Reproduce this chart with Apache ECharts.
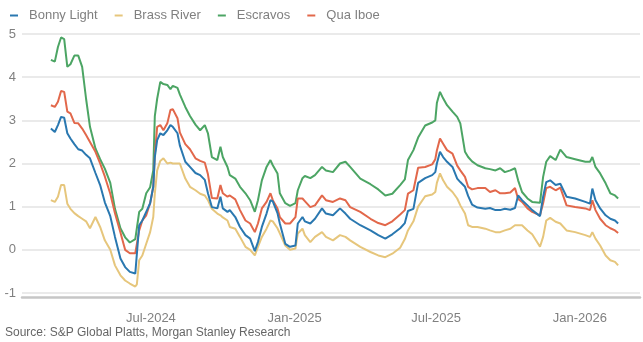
<!DOCTYPE html>
<html>
<head>
<meta charset="utf-8">
<script src="https://cdn.jsdelivr.net/npm/echarts@6/dist/echarts.min.js"></script>
<style>
  html, body { margin: 0; padding: 0; background: #fff; }
  #chart { width: 643px; height: 342px; }
</style>
</head>
<body>
<div id="chart"></div>
<script>
var dates = [
  '2024-02-24','2024-02-29','2024-03-04','2024-03-08','2024-03-12','2024-03-16','2024-03-20','2024-03-25','2024-03-30','2024-04-04',
  '2024-04-09','2024-04-14','2024-04-21','2024-04-27','2024-05-03','2024-05-10','2024-05-16','2024-05-23','2024-05-29','2024-06-04',
  '2024-06-11','2024-06-13','2024-06-16','2024-06-20','2024-06-25','2024-06-30','2024-07-04','2024-07-06','2024-07-09','2024-07-13',
  '2024-07-17','2024-07-22','2024-07-26','2024-07-29','2024-08-04','2024-08-07','2024-08-14','2024-08-20','2024-08-27','2024-09-02',
  '2024-09-08','2024-09-12','2024-09-17','2024-09-24','2024-09-28','2024-10-01','2024-10-07','2024-10-10','2024-10-17','2024-10-23',
  '2024-10-30','2024-11-05','2024-11-11','2024-11-15','2024-11-20','2024-11-26','2024-12-01','2024-12-04','2024-12-10','2024-12-13',
  '2024-12-20','2024-12-26','2025-01-02','2025-01-05','2025-01-11','2025-01-14','2025-01-21','2025-01-27','2025-02-05','2025-02-10',
  '2025-02-19','2025-02-28','2025-03-07','2025-03-13','2025-03-26','2025-04-08','2025-04-18','2025-04-27','2025-05-06','2025-05-16',
  '2025-05-22','2025-05-26','2025-06-02','2025-06-08','2025-06-17','2025-06-26','2025-06-30','2025-07-02','2025-07-06','2025-07-10',
  '2025-07-15','2025-07-22','2025-07-28','2025-08-01','2025-08-07','2025-08-11','2025-08-16','2025-08-23','2025-09-02','2025-09-08',
  '2025-09-15','2025-09-21','2025-09-27','2025-10-04','2025-10-10','2025-10-14','2025-10-19','2025-10-26','2025-11-01','2025-11-11',
  '2025-11-15','2025-11-19','2025-11-24','2025-12-01','2025-12-07','2025-12-15','2025-12-26','2026-01-08','2026-01-14','2026-01-17',
  '2026-01-21','2026-01-27','2026-02-03','2026-02-09','2026-02-15','2026-02-19'
];

var bonnyLight = [
  2.81, 2.73, 2.89, 3.08, 3.06, 2.70, 2.58, 2.45, 2.33, 2.30,
  2.20, 2.12, 1.78, 1.50, 1.10, 0.78, 0.30, -0.20, -0.40, -0.51,
  -0.55, -0.10, 0.57, 0.68, 0.88, 1.08, 1.46, 2.15, 2.54, 2.70,
  2.66, 2.77, 2.89, 2.85, 2.70, 2.42, 2.04, 1.92, 1.78, 1.73,
  1.62, 1.31, 0.99, 0.96, 1.23, 0.96, 0.88, 0.92, 0.76, 0.53,
  0.34, 0.26, -0.03, 0.18, 0.53, 0.84, 1.15, 1.12, 0.85, 0.61,
  0.14, 0.07, 0.10, 0.61, 0.76, 0.66, 0.61, 0.72, 0.96, 0.84,
  0.80, 0.96, 0.84, 0.72, 0.57, 0.45, 0.34, 0.26, 0.36, 0.50,
  0.62, 0.90, 0.95, 1.55, 1.66, 1.73, 1.80, 2.00, 2.27, 2.15,
  2.04, 1.92, 1.65, 1.57, 1.46, 1.25, 1.05, 0.98, 0.95, 0.97,
  0.92, 0.92, 0.95, 0.93, 0.97, 1.26, 1.15, 1.03, 0.92, 0.78,
  1.23, 1.57, 1.61, 1.50, 1.53, 1.23, 1.19, 1.11, 1.07, 1.42,
  1.15, 0.96, 0.80, 0.72, 0.68, 0.61
];

var brassRiver = [
  1.15, 1.11, 1.23, 1.50, 1.50, 1.07, 0.95, 0.85, 0.78, 0.72,
  0.66, 0.50, 0.76, 0.53, 0.22, 0.00, -0.36, -0.59, -0.71, -0.78,
  -0.85, -0.80, -0.24, -0.13, 0.14, 0.41, 0.76, 1.30, 1.84, 2.06,
  2.12, 2.00, 2.02, 2.00, 2.00, 2.00, 1.65, 1.46, 1.38, 1.30,
  1.26, 1.15, 0.95, 0.84, 0.80, 0.75, 0.68, 0.53, 0.49, 0.30,
  0.07, 0.00, -0.13, 0.07, 0.30, 0.49, 0.68, 0.66, 0.50, 0.38,
  0.10, 0.00, 0.03, 0.38, 0.49, 0.34, 0.18, 0.30, 0.41, 0.30,
  0.22, 0.34, 0.30, 0.22, 0.07, -0.05, -0.13, -0.17, -0.09, 0.05,
  0.25, 0.45, 0.66, 1.00, 1.24, 1.28, 1.34, 1.55, 1.77, 1.61,
  1.46, 1.34, 1.19, 1.03, 0.84, 0.57, 0.53, 0.53, 0.49, 0.45,
  0.41, 0.41, 0.45, 0.49, 0.57, 0.57, 0.57, 0.45, 0.36, 0.07,
  0.30, 0.68, 0.74, 0.65, 0.61, 0.45, 0.41, 0.34, 0.30, 0.41,
  0.26, 0.10, -0.13, -0.24, -0.28, -0.36
];

var escravos = [
  4.40, 4.36, 4.70, 4.92, 4.88, 4.24, 4.30, 4.50, 4.50, 4.24,
  3.50, 2.85, 2.35, 2.10, 1.88, 1.55, 0.95, 0.50, 0.29, 0.17,
  0.25, 0.50, 0.88, 0.95, 1.31, 1.45, 1.84, 3.10, 3.50, 3.89,
  3.84, 3.82, 3.72, 3.80, 3.75, 3.60, 3.31, 3.10, 2.90, 2.77,
  2.89, 2.70, 2.15, 2.08, 2.39, 2.15, 1.92, 1.73, 1.65, 1.46,
  1.31, 1.15, 0.88, 1.15, 1.61, 1.92, 2.08, 1.96, 1.77, 1.31,
  1.08, 1.02, 1.08, 1.38, 1.66, 1.71, 1.66, 1.73, 1.92, 1.84,
  1.80, 2.00, 2.04, 1.92, 1.65, 1.52, 1.40, 1.26, 1.30, 1.50,
  1.63, 2.08, 2.31, 2.60, 2.88, 2.95, 3.00, 3.40, 3.66, 3.51,
  3.35, 3.20, 3.08, 2.93, 2.27, 2.15, 2.05, 1.96, 1.89, 1.87,
  1.84, 1.89, 1.80, 1.84, 1.89, 1.61, 1.34, 1.19, 1.11, 1.09,
  1.69, 2.04, 2.17, 2.08, 2.32, 2.15, 2.10, 2.04, 2.04, 2.15,
  1.92, 1.77, 1.54, 1.31, 1.26, 1.19
];

var quaIboe = [
  3.35, 3.31, 3.43, 3.68, 3.66, 3.20, 3.16, 2.94, 2.93, 2.81,
  2.66, 2.50, 2.27, 2.00, 1.70, 1.30, 0.85, 0.40, 0.00, -0.08,
  -0.08, -0.05, 0.45, 0.68, 0.80, 1.08, 1.46, 2.20, 2.85, 2.89,
  2.77, 2.93, 3.24, 3.26, 3.05, 2.72, 2.45, 2.33, 2.12, 2.06,
  2.02, 1.75, 1.20, 1.19, 1.50, 1.31, 1.23, 1.26, 1.17, 0.92,
  0.68, 0.61, 0.41, 0.61, 0.96, 1.11, 1.31, 1.15, 0.96, 0.76,
  0.61, 0.61, 0.76, 1.19, 1.19, 1.13, 0.99, 1.03, 1.26, 1.15,
  1.11, 1.19, 1.15, 0.99, 0.88, 0.72, 0.62, 0.57, 0.66, 0.82,
  0.92, 1.30, 1.38, 1.90, 1.92, 1.98, 2.10, 2.30, 2.58, 2.46,
  2.31, 2.23, 1.95, 1.84, 1.69, 1.46, 1.40, 1.43, 1.43, 1.34,
  1.38, 1.31, 1.31, 1.33, 1.43, 1.18, 1.11, 0.96, 0.88, 0.80,
  1.08, 1.43, 1.46, 1.38, 1.44, 1.03, 0.99, 0.96, 0.92, 1.15,
  0.92, 0.72, 0.57, 0.50, 0.45, 0.39
];

var tickDates = ['2024-07-01', '2025-01-01', '2025-07-01', '2026-01-01'];
var tickLabels = ['Jul-2024', 'Jan-2025', 'Jul-2025', 'Jan-2026'];

function toTime(s) {
  var p = s.split('-');
  return Date.UTC(+p[0], +p[1] - 1, +p[2]);
}
function pairs(vals) {
  return dates.map(function (d, i) { return [toTime(d), vals[i]]; });
}
var tickTimes = tickDates.map(toTime);

var font = "'Liberation Sans', Arial, sans-serif";
var chart = echarts.init(document.getElementById('chart'));

function line(name, vals, color) {
  return {
    name: name,
    type: 'line',
    data: pairs(vals),
    showSymbol: false,
    symbol: 'none',
    lineStyle: { color: color, width: 2 },
    itemStyle: { color: color }
  };
}

chart.setOption({
  backgroundColor: '#fff',
  animation: false,
  textStyle: { fontFamily: font },
  legend: {
    left: 5,
    top: 4,
    icon: 'rect',
    itemWidth: 8,
    itemHeight: 2,
    itemGap: 17,
    textStyle: { fontSize: 13, color: '#808080', fontFamily: font, padding: [0, 0, 0, 6] },
    data: ['Bonny Light', 'Brass River', 'Escravos', 'Qua Iboe']
  },
  grid: { left: 22, right: 3, top: 34, bottom: 49, containLabel: false },
  xAxis: {
    type: 'value',
    min: toTime('2024-01-18'),
    max: toTime('2026-03-19'),
    offset: 4,
    axisLine: { show: true, onZero: false, lineStyle: { color: '#c6c6c6', width: 2.5 } },
    axisTick: { show: false },
    splitLine: { show: false },
    axisLabel: {
      customValues: tickTimes,
      margin: 15,
      fontSize: 13,
      color: '#808080',
      fontFamily: font,
      formatter: function (v) {
        var i = tickTimes.indexOf(v);
        return i >= 0 ? tickLabels[i] : '';
      }
    }
  },
  yAxis: {
    type: 'value',
    min: -1,
    max: 5,
    interval: 1,
    axisLine: { show: false },
    axisTick: { show: false },
    axisLabel: { margin: 6, fontSize: 13, color: '#808080', fontFamily: font },
    splitLine: { lineStyle: { color: '#e3e3e3', width: 1.5 } }
  },
  graphic: [{
    type: 'text',
    left: 5,
    top: 327,
    style: {
      text: 'Source: S&P Global Platts, Morgan Stanley Research',
      fontSize: 12,
      fill: '#666',
      fontFamily: font
    }
  }],
  series: [
    line('Brass River', brassRiver, '#e6c67c'),
    line('Escravos', escravos, '#4ca564'),
    line('Qua Iboe', quaIboe, '#e2684b'),
    line('Bonny Light', bonnyLight, '#2a78b0')
  ]
});
</script>
</body>
</html>
